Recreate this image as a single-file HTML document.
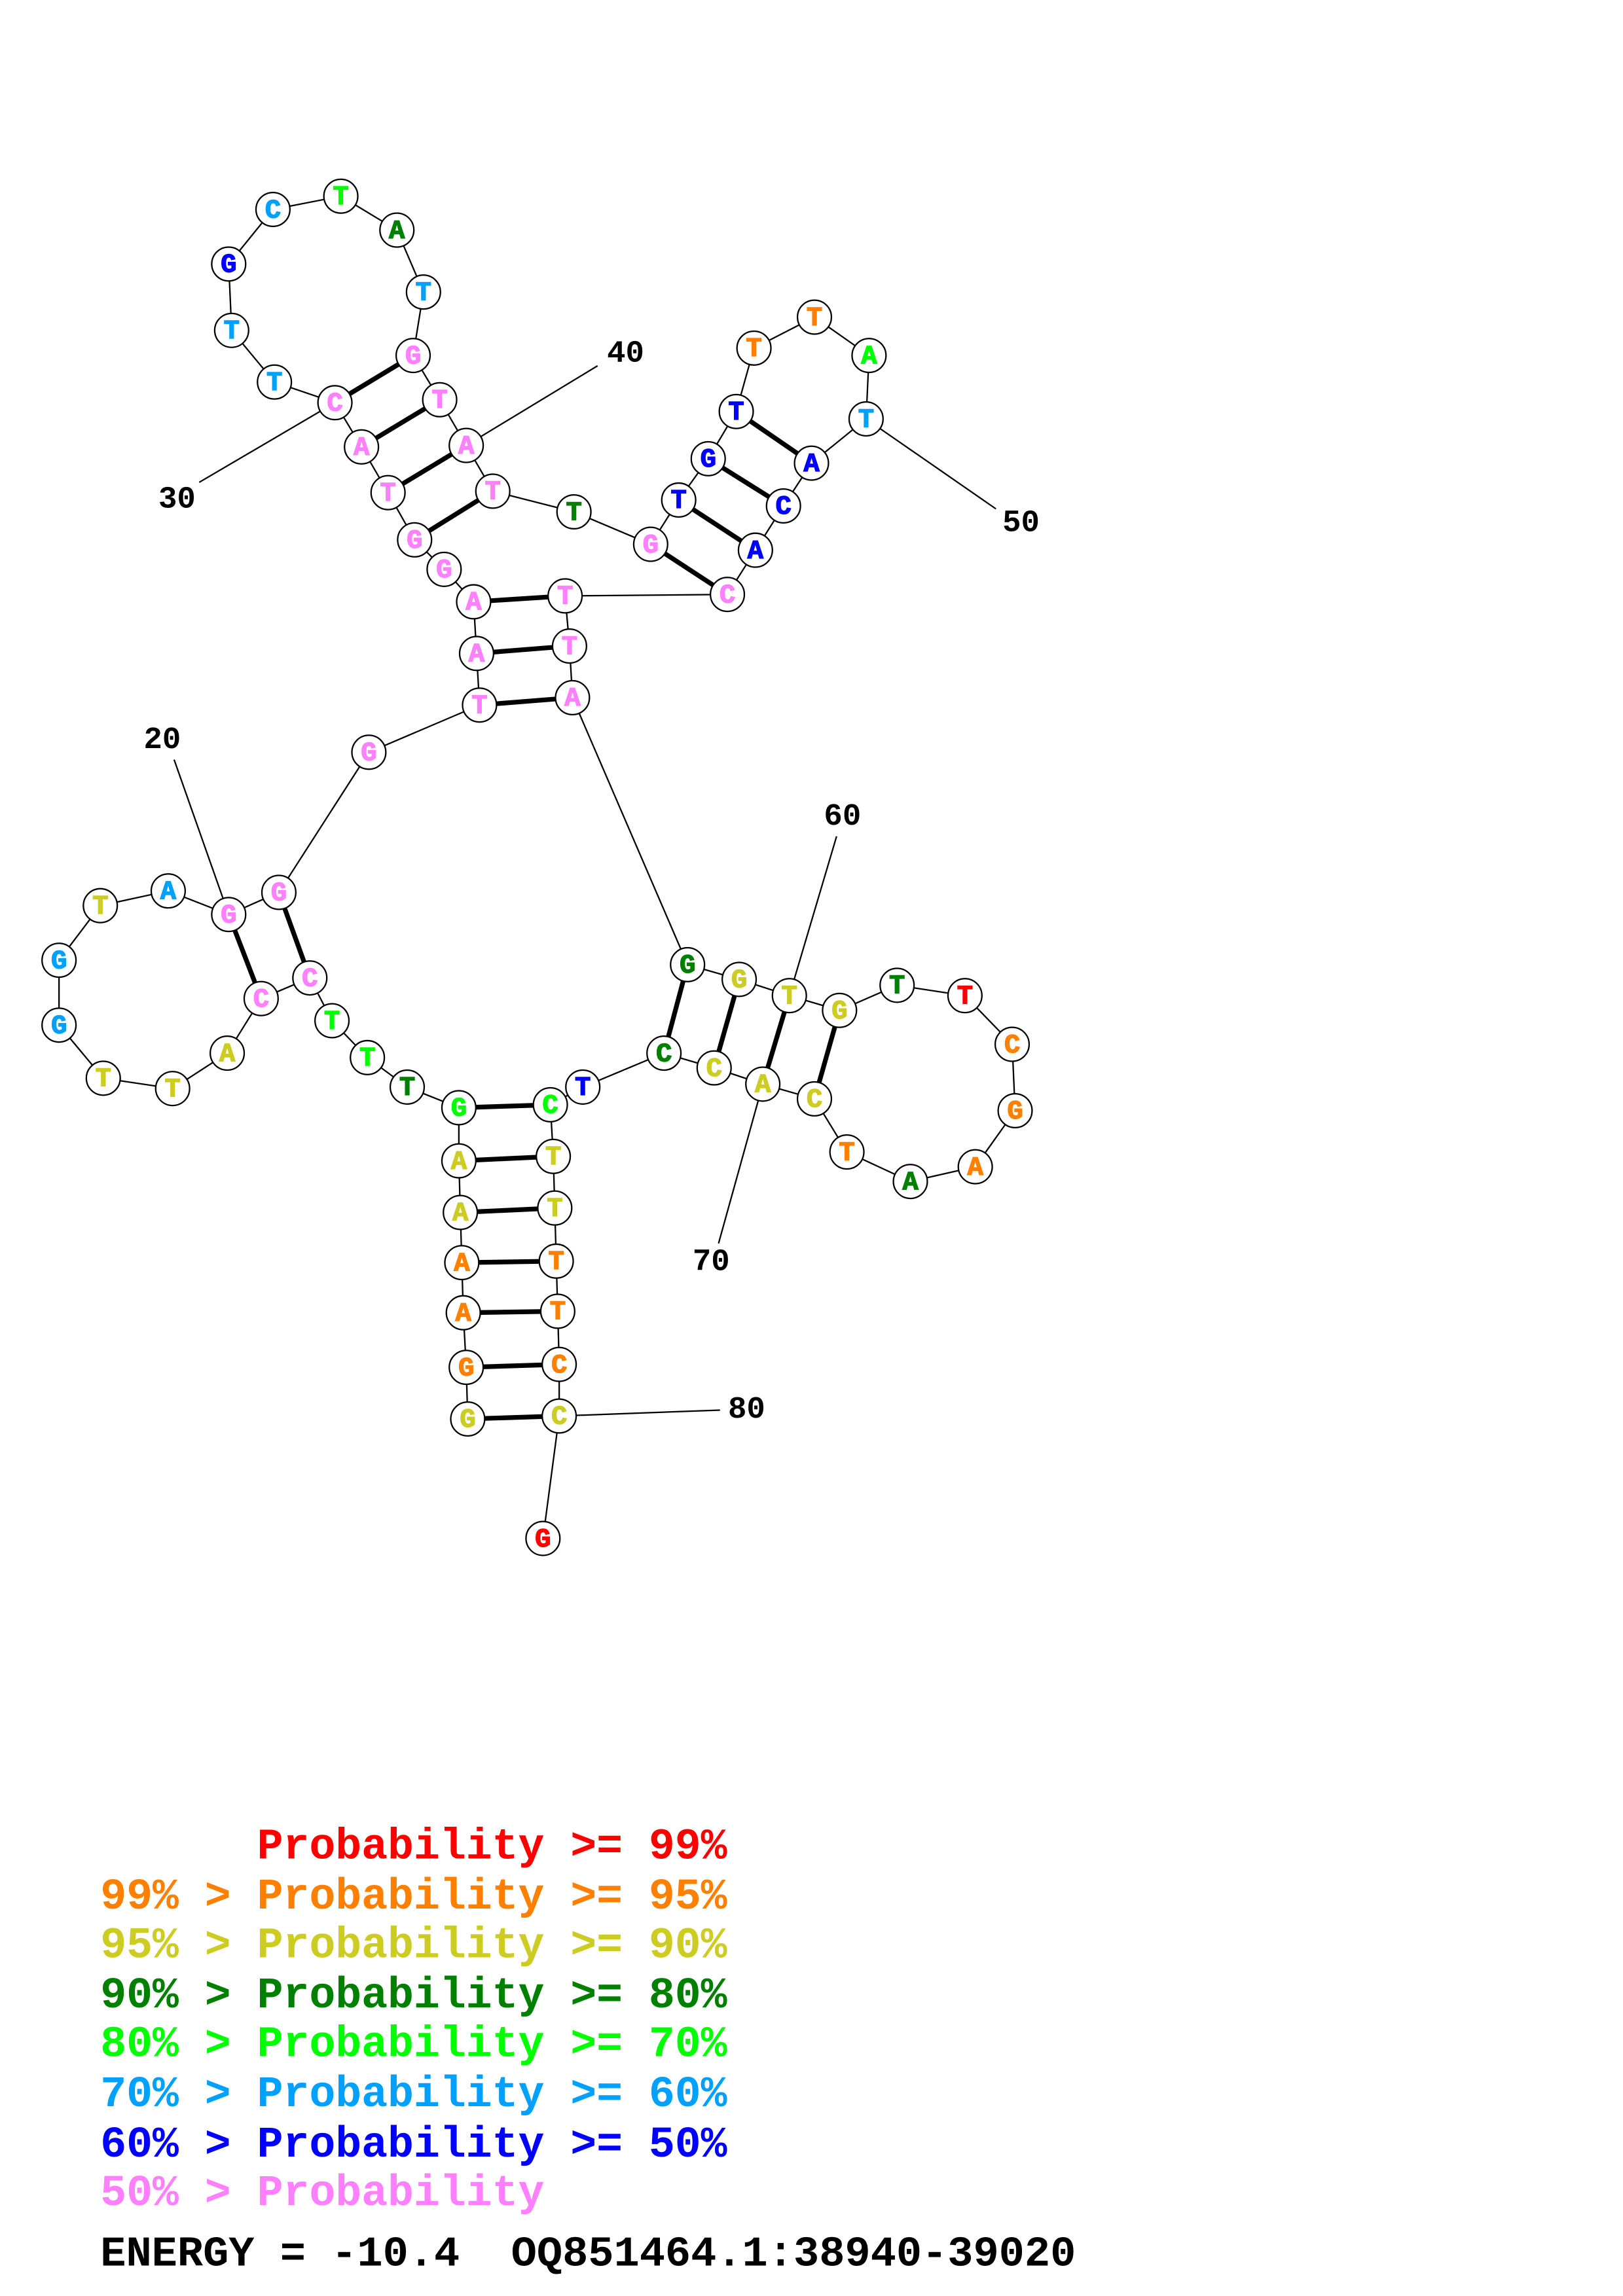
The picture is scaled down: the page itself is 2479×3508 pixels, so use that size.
<!DOCTYPE html>
<html><head><meta charset="utf-8"><style>
html,body{margin:0;padding:0;background:#fff}
svg{display:block}
.n text{font-family:"Liberation Mono",monospace;font-weight:bold;font-size:18px;text-anchor:middle;dominant-baseline:central;stroke-width:0.6px}
.lab{font-family:"Liberation Mono",monospace;font-weight:bold;font-size:21px;text-anchor:middle;dominant-baseline:central}
.leg{font-family:"Liberation Mono",monospace;font-weight:bold;font-size:29.5px;white-space:pre}
</style></head><body>
<svg id="s" width="2479" height="3508" viewBox="0 0 1100 1556.6" xmlns="http://www.w3.org/2000/svg"></svg>
<script>
const C={y:"#cccc22",o:"#ff8000",g:"#00ff00",d:"#008000",p:"#ff80ff",s:"#00a0ff",b:"#0000ff",r:"#ff0000"};
const N=[
["G",317,962,"y"],["G",316,927,"o"],["A",314,890,"o"],["A",313,856,"o"],["A",312,822,"y"],["A",311,787,"y"],["G",311,751,"g"],
["T",276,737,"d"],["T",249,717,"g"],["T",225,692,"g"],["C",210,663,"p"],["C",177,677,"p"],["A",154,714,"y"],["T",117,738,"y"],
["T",70,731,"y"],["G",40,695,"s"],["G",40,651,"s"],["T",68,614,"y"],["A",114,604,"s"],["G",155,620,"p"],
["G",189,605,"p"],["G",250,510,"p"],["T",325,478,"p"],["A",323,443,"p"],["A",321,408,"p"],["G",301,386,"p"],["G",281,366,"p"],
["T",263,334,"p"],["A",245,303,"p"],["C",227,273,"p"],["T",186,259,"s"],["T",157,224,"s"],["G",155,179,"b"],["C",185,142,"s"],
["T",231,133,"g"],["A",269,156,"d"],["T",287,198,"s"],["G",280,241,"p"],["T",298,271,"p"],["A",316,302,"p"],["T",334,333,"p"],
["T",389,347,"d"],["G",441,369,"p"],["T",460,339,"b"],["G",480,311,"b"],["T",499,279,"b"],["T",511,236,"o"],["T",552,215,"o"],
["A",589,241,"g"],["T",587,284,"s"],["A",550,314,"b"],["C",531,343,"b"],["A",512,373,"b"],["C",493,403,"p"],["T",383,404,"p"],
["T",386,438,"p"],["A",388,473,"p"],["G",466,654,"d"],["G",501,664,"y"],["T",535,675,"y"],["G",569,685,"y"],["T",608,668,"d"],
["T",654,675,"r"],["C",686,708,"o"],["G",688,753,"o"],["A",661,791,"o"],["A",617,801,"d"],["T",574,781,"o"],["C",552,745,"y"],
["A",517,735,"y"],["C",484,724,"y"],["C",450,714,"d"],["T",395,737,"b"],["C",373,749,"g"],["T",375,784,"y"],["T",376,819,"y"],
["T",377,855,"o"],["T",378,889,"o"],["C",379,925,"o"],["C",379,960,"y"],["G",368,1043,"r"]];
const P=[[1,80],[2,79],[3,78],[4,77],[5,76],[6,75],[7,74],[11,21],[12,20],[23,57],[24,56],[25,55],[27,41],[28,40],[29,39],[30,38],[43,54],[44,53],[45,52],[46,51],[58,72],[59,71],[60,70],[61,69]];
const L=[[20,118,515,110,502],[30,135,327,120,339],[40,405,248,424,240],[50,675,345,692,355],[60,567,567,571,554],[70,487,843,482,856],[80,488,956,506,956]];
let h="";
for(let i=0;i<N.length-1;i++)h+=`<line x1="${N[i][1]}" y1="${N[i][2]}" x2="${N[i+1][1]}" y2="${N[i+1][2]}" stroke="#000" stroke-width="1"/>`;
for(const [a,b] of P)h+=`<line x1="${N[a-1][1]}" y1="${N[a-1][2]}" x2="${N[b-1][1]}" y2="${N[b-1][2]}" stroke="#000" stroke-width="3.2"/>`;
for(const [k,x,y,tx,ty] of L){h+=`<line x1="${N[k-1][1]}" y1="${N[k-1][2]}" x2="${x}" y2="${y}" stroke="#000" stroke-width="1"/><text class="lab" x="${tx}" y="${ty}">${k}</text>`;}
h+='<g class="n">';
for(const [t,x,y,c] of N)h+=`<circle cx="${x}" cy="${y}" r="11.5" fill="#fff" stroke="#000" stroke-width="1"/><text x="${x}" y="${y+1}" fill="${C[c]}" stroke="${C[c]}">${t}</text>`;
h+='</g>';
const G=[["      Probability >= 99%","r"],["99% > Probability >= 95%","o"],["95% > Probability >= 90%","y"],["90% > Probability >= 80%","d"],["80% > Probability >= 70%","g"],["70% > Probability >= 60%","s"],["60% > Probability >= 50%","b"],["50% > Probability","p"]];
const Y=[1260,1294,1327,1361,1394,1428,1462,1495];
G.forEach((g,i)=>{h+=`<text class="leg" x="68" y="${Y[i]}" fill="${C[g[1]]}" xml:space="preserve">${g[0]}</text>`;});
h+=`<text class="leg" x="68" y="1536" fill="#000" xml:space="preserve" style="font-size:29px">ENERGY = -10.4  OQ851464.1:38940-39020</text>`;
document.getElementById("s").innerHTML=h;
</script>
</body></html>
